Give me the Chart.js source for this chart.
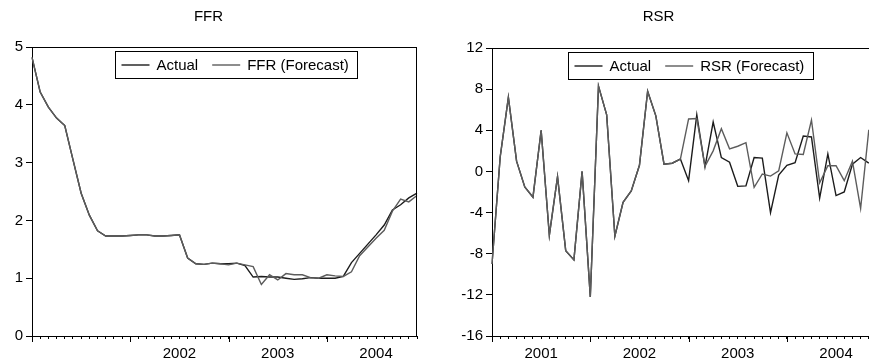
<!DOCTYPE html>
<html>
<head>
<meta charset="utf-8">
<script src="https://cdn.jsdelivr.net/npm/chart.js@4.4.1/dist/chart.umd.min.js"></script>
<style>
  html, body { margin: 0; padding: 0; background: #fff; }
  body { width: 869px; height: 364px; overflow: hidden; position: relative; }
  .panel { position: absolute; top: 0; }
</style>
</head>
<body>
<div class="panel" style="left:0px"><canvas id="ffrChart" width="452" height="364"></canvas></div>
<div class="panel" style="left:440px"><canvas id="rsrChart" width="508" height="364"></canvas></div>
<script>
// monthly axis, 2001M01 .. 2004M12
const years = ['2001', '2002', '2003', '2004'];
const months = ['01', '02', '03', '04', '05', '06', '07', '08', '09', '10', '11', '12'];
const ffrYearLabels = ['2002', '2003', '2004'];        // 2001 label not shown on the left panel
const rsrYearLabels = ['2001', '2002', '2003', '2004'];

const ffrActual = [4.82, 4.22, 3.96, 3.77, 3.64, 3.05, 2.47, 2.09, 1.82, 1.73, 1.73, 1.73,
  1.74, 1.75, 1.75, 1.73, 1.73, 1.74, 1.75, 1.35, 1.25, 1.24, 1.26, 1.25,
  1.25, 1.26, 1.22, 1.02, 1.03, 1.02, 1.02, 1.00, 0.98, 0.99, 1.01, 1.00,
  1.00, 1.00, 1.03, 1.27, 1.43, 1.59, 1.75, 1.92, 2.18, 2.27, 2.39, 2.47];
const ffrForecast = [4.82, 4.22, 3.96, 3.77, 3.64, 3.05, 2.47, 2.09, 1.82, 1.73, 1.73, 1.73,
  1.74, 1.75, 1.75, 1.73, 1.73, 1.74, 1.75, 1.35, 1.25, 1.24, 1.26, 1.25,
  1.23, 1.26, 1.23, 1.20, 0.89, 1.06, 0.97, 1.08, 1.06, 1.06, 1.01, 1.00,
  1.06, 1.04, 1.03, 1.11, 1.39, 1.54, 1.69, 1.83, 2.16, 2.37, 2.32, 2.43];

const rsrActual = [-9.0, 1.4, 7.2, 1.0, -1.5, -2.5, 4.0, -6.2, -0.5, -7.7, -8.6, 0.0,
  -12.2, 8.3, 5.5, -6.3, -3.0, -1.9, 0.6, 7.8, 5.4, 0.7, 0.8, 1.2,
  -0.9, 5.5, 0.45, 4.8, 1.35, 0.9, -1.45, -1.4, 1.35, 1.3, -4.0, -0.35,
  0.6, 0.85, 3.45, 3.35, -2.6, 1.7, -2.35, -2.0, 0.7, 1.35, 0.8];
const rsrForecast = [-9.0, 1.4, 7.2, 1.0, -1.5, -2.5, 4.0, -6.2, -0.5, -7.7, -8.6, 0.0,
  -12.2, 8.3, 5.5, -6.3, -3.0, -1.9, 0.6, 7.8, 5.4, 0.7, 0.8, 1.2,
  5.1, 5.15, 0.5, 2.0, 4.15, 2.2, 2.45, 2.8, -1.55, -0.25, -0.45, 0.05,
  3.75, 1.7, 1.65, 5.0, -1.1, 0.55, 0.55, -0.9, 1.0, -3.6, 4.05];

const labels = [];
years.forEach(y => months.forEach(m => labels.push(y + 'M' + m)));

const FONT = '"Liberation Sans", Arial, sans-serif';
const ACTUAL_COLOR = '#1c1c1c';
const FORECAST_COLOR = '#5c5c5c';

// frame on top/right, long ticks at year starts, boxed legend inside the plot
const eviewsLook = {
  id: 'eviewsLook',
  afterDraw(chart, args, opts) {
    const { ctx, chartArea } = chart;
    const xs = chart.scales.x;
    ctx.save();
    ctx.strokeStyle = '#000';
    ctx.lineWidth = 1;
    ctx.beginPath();
    ctx.moveTo(chartArea.left, chartArea.top + 0.5);
    ctx.lineTo(chartArea.right, chartArea.top + 0.5);
    ctx.moveTo(chartArea.right - 0.5, chartArea.top);
    ctx.lineTo(chartArea.right - 0.5, chartArea.bottom);
    for (let i = 0; i < labels.length; i += 12) {
      const px = Math.round(xs.getPixelForValue(i)) + 0.5;
      ctx.moveTo(px, chartArea.bottom);
      ctx.lineTo(px, chartArea.bottom + 6);
    }
    ctx.stroke();

    // legend
    ctx.font = '15px ' + FONT;
    ctx.textBaseline = 'middle';
    const items = chart.data.datasets.map(d => ({ label: d.label, color: d.borderColor }));
    const sample = 28, gap = 7, between = 14, pad = 6;
    let w = pad;
    items.forEach((it, k) => {
      w += sample + gap + ctx.measureText(it.label).width + (k < items.length - 1 ? between : pad + 3);
    });
    const x0 = Math.round(chartArea.left + opts.legendX) + 0.5;
    const y0 = Math.round(chartArea.top + 4) + 0.5;
    const h = 27;
    ctx.fillStyle = '#fff';
    ctx.fillRect(x0, y0, w, h);
    ctx.strokeRect(x0, y0, Math.round(w), h);
    let cx = x0 + pad;
    const cy = y0 + h / 2;
    items.forEach(it => {
      ctx.strokeStyle = it.color;
      ctx.lineWidth = 1.4;
      ctx.beginPath();
      ctx.moveTo(cx, cy);
      ctx.lineTo(cx + sample, cy);
      ctx.stroke();
      cx += sample + gap;
      ctx.fillStyle = '#000';
      ctx.fillText(it.label, cx, cy + 1);
      cx += ctx.measureText(it.label).width + between;
    });
    ctx.restore();
  }
};

function makeChart(id, cfg) {
  const firstYear = parseInt(years[0], 10);
  return new Chart(document.getElementById(id), {
    type: 'line',
    data: {
      labels: labels,
      datasets: [
        { label: 'Actual', data: cfg.actual, borderColor: ACTUAL_COLOR, borderWidth: 1.4, order: 1 },
        { label: cfg.name + ' (Forecast)', data: cfg.forecast, borderColor: FORECAST_COLOR, borderWidth: 1.4, order: 0 }
      ]
    },
    options: {
      responsive: false,
      animation: false,
      events: [],
      elements: { point: { radius: 0 }, line: { tension: 0 } },
      layout: { padding: { left: 0, right: cfg.padRight, top: 0, bottom: 0 } },
      plugins: {
        legend: { display: false },
        tooltip: { enabled: false },
        title: {
          display: true,
          text: cfg.name,
          color: '#000',
          font: { family: FONT, size: 15, weight: 'normal' },
          padding: { top: 8, bottom: cfg.titleGap }
        },
        eviewsLook: { legendX: cfg.legendX }
      },
      scales: {
        x: {
          afterFit(scale) { scale.height = 28; },
          grid: { drawOnChartArea: false, drawTicks: true, tickLength: 3, color: '#000' },
          border: { display: true, color: '#000', width: 1 },
          ticks: {
            autoSkip: false,
            maxRotation: 0,
            minRotation: 0,
            padding: 6,
            color: '#000',
            font: { family: FONT, size: 15 },
            callback(val, index) {
              if (index % 12 !== 6) return '';
              const yr = String(firstYear + Math.floor(index / 12));
              return cfg.yearLabels.includes(yr) ? yr : '';
            }
          }
        },
        y: {
          min: cfg.min,
          max: cfg.max,
          afterFit(scale) { scale.width = cfg.yWidth; },
          grid: { drawOnChartArea: false, drawTicks: true, tickLength: 6, color: '#000' },
          border: { display: true, color: '#000', width: 1 },
          ticks: {
            stepSize: cfg.step,
            padding: 3,
            color: '#000',
            font: { family: FONT, size: 15 }
          }
        }
      }
    },
    plugins: [eviewsLook]
  });
}

makeChart('ffrChart', {
  name: 'FFR', actual: ffrActual, forecast: ffrForecast, yearLabels: ffrYearLabels,
  min: 0, max: 5, step: 1, yWidth: 32, padRight: 35, titleGap: 21, legendX: 83
});
makeChart('rsrChart', {
  name: 'RSR', actual: rsrActual, forecast: rsrForecast, yearLabels: rsrYearLabels,
  min: -16, max: 12, step: 4, yWidth: 52, padRight: 71, titleGap: 22, legendX: 76
});
</script>
</body>
</html>
